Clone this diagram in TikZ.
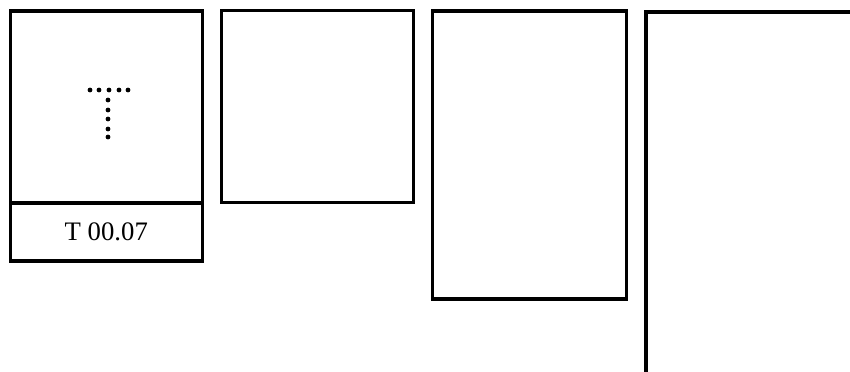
\documentclass[tikz,border=0pt]{standalone}
\usepackage{fontspec}
\setmainfont{Liberation Serif}
\usetikzlibrary{positioning}

\begin{document}
\begin{tikzpicture}[
  x=0.025cm, y=-0.025cm,
  panel/.style={rectangle, draw, line width=2.2pt, minimum width=#1, inner sep=0pt, outer sep=0pt},
  dotmark/.style={circle, fill=black, inner sep=0pt, minimum size=0.12cm},
  tag/.style={font=\fontsize{19}{22}\selectfont}
]
  \useasboundingbox (0,0) rectangle (850,372);

  % first frame with its caption field
  \node[panel=4.79cm, minimum height=4.8cm] (f1) at (106.3,107) {};
  \node[panel=4.79cm, minimum height=1.45cm, below=0pt of f1, tag] (f1tag) {T 00.07};
  % empty frames
  \node[panel=4.78cm, minimum height=4.78cm] (f2) at (317.5,106.5) {};
  \node[panel=4.83cm, minimum height=7.2cm] (f3) at (529.5,155) {};
  % open frame running off the page
  \coordinate (f4corner) at (646,12);
  \coordinate (f4bottom) at (646,380);
  \coordinate (f4right) at (860,12);
  \draw[line width=2.2pt] (f4bottom) -- (f4corner) -- (f4right);

  % dotted letter
  \foreach \px in {90,99,109,119,128}
    \node[dotmark] at (\px,90) {};
  \foreach \py in {100,110,119,129,137}
    \node[dotmark] at (108,\py) {};
\end{tikzpicture}
\end{document}
